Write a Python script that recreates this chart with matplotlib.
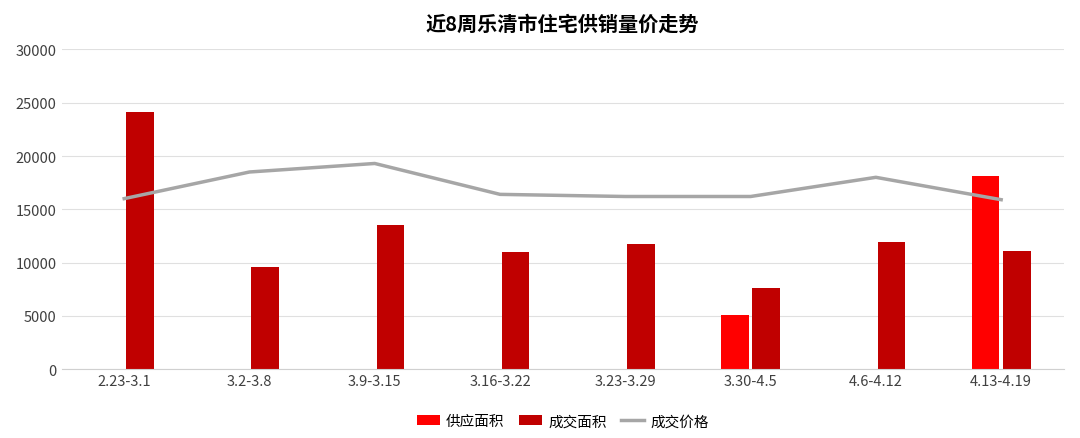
import matplotlib
matplotlib.use("Agg")
import matplotlib.pyplot as plt
import numpy as np

plt.rcParams['font.family'] = ['Noto Sans CJK SC', 'DejaVu Sans']

weeks = ["2.23-3.1", "3.2-3.8", "3.9-3.15", "3.16-3.22", "3.23-3.29", "3.30-4.5", "4.6-4.12", "4.13-4.19"]
supply = [0, 0, 0, 0, 0, 5100, 0, 18100]
deal = [24100, 9600, 13500, 11000, 11700, 7600, 11900, 11100]
price = [16000, 18500, 19300, 16400, 16200, 16200, 18000, 15900]

fig, ax = plt.subplots(figsize=(10.8, 4.39), dpi=100)
fig.subplots_adjust(left=0.057, right=0.985, top=0.885, bottom=0.157)

x = np.arange(len(weeks))
w = 0.22
b1 = ax.bar(x - 0.125, supply, w, color="#ff0000", label="供应面积")
b2 = ax.bar(x + 0.125, deal, w, color="#c00000", label="成交面积")
l1, = ax.plot(x, price, color="#a6a6a6", lw=2.5, label="成交价格")

ax.set_xlim(-0.5, len(weeks) - 0.5)
ax.set_ylim(0, 30000)
ax.set_yticks(range(0, 30001, 5000))
ax.set_xticks(x)
ax.set_xticklabels(weeks)
ax.tick_params(axis="both", length=0, labelsize=10.5, colors="#404040")
ax.grid(axis="y", color="#e0e0e0", lw=0.8)
ax.set_axisbelow(True)
for s in ["top", "right", "left"]:
    ax.spines[s].set_visible(False)
ax.spines["bottom"].set_color("#d0d0d0")

ax.set_title("近8周乐清市住宅供销量价走势", fontsize=14.5, fontweight="bold", pad=14)
ax.legend([b1, b2, l1], ["供应面积", "成交面积", "成交价格"],
          loc="upper center", bbox_to_anchor=(0.5, -0.1), ncol=3, frameon=False,
          fontsize=10.5, handlelength=1.6, columnspacing=1.0, handletextpad=0.4)

fig.savefig("out.png")
